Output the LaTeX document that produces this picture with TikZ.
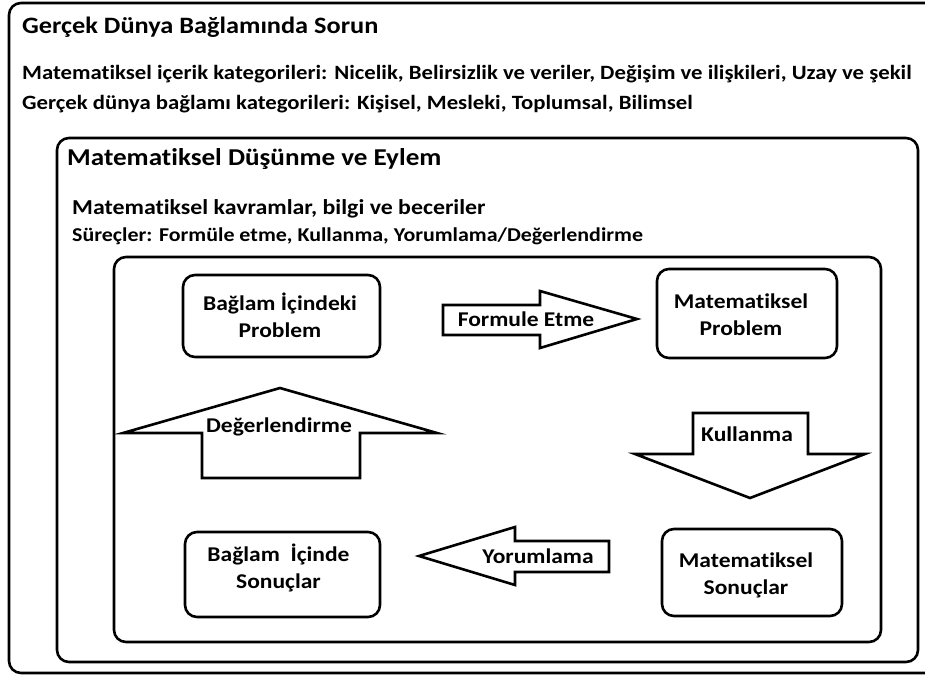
\documentclass[tikz,border=0pt]{standalone}
\usepackage{fontspec}
\setmainfont{Carlito}[FakeStretch=1.12,Ligatures={NoCommon}]
\begin{document}
\begin{tikzpicture}[x=1pt,y=-1pt,
  frame/.style={draw=black,line width=2.6pt,rounded corners=12pt},
  stepbox/.style={draw=black,line width=2.6pt,rounded corners=12pt,inner sep=0pt},
  blockarrow/.style={draw=black,line width=2.6pt,line join=miter,fill=white},
  headline/.style={anchor=base west,inner sep=0pt,font=\fontsize{23.5}{28}\selectfont\bfseries},
  infoline/.style={anchor=base west,inner sep=0pt,font=\fontsize{20.3}{24}\selectfont\bfseries},
  boxtext/.style={align=center,inner sep=0pt,font=\fontsize{21}{27}\selectfont\bfseries},
  arrowtext/.style={inner sep=0pt,font=\fontsize{21}{25}\selectfont\bfseries}]
\useasboundingbox (0,0) rectangle (925,677);
\fill[white] (0,0) rectangle (925,677);

% nested frames
\draw[frame] (9,3) rectangle (945,673);
\draw[frame] (57,138) rectangle (918,662);
\draw[frame] (114,257) rectangle (881,642);

% outer frame texts
\node[headline] (t1) at (22,34) {Gerçek Dünya Bağlamında Sorun};
\node[infoline] (t2) at (22,79) {Matematiksel içerik kategorileri: Nicelik, Belirsizlik ve veriler, Değişim ve ilişkileri, Uzay ve şekil};
\node[infoline] (t3) at (22,109) {Gerçek dünya bağlamı kategorileri: Kişisel, Mesleki, Toplumsal, Bilimsel};

% middle frame texts
\node[headline,font=\fontsize{24.2}{28}\selectfont\bfseries] (t4) at (67,165) {Matematiksel Düşünme ve Eylem};
\node[infoline,font=\fontsize{21.3}{25}\selectfont\bfseries] (t5) at (72,214) {Matematiksel kavramlar, bilgi ve beceriler};
\node[infoline,font=\fontsize{19.6}{23}\selectfont\bfseries] (t6) at (72,241) {Süreçler: Formüle etme, Kullanma, Yorumlama/Değerlendirme};

% the four stages
\node[stepbox,minimum width=197pt,minimum height=82pt] (b1) at (281.5,316) {};
\node[boxtext] (b1t) at (280,315) {Bağlam İçindeki\\Problem};
\node[stepbox,minimum width=180pt,minimum height=89pt] (b2) at (747,313.5) {};
\node[boxtext] (b2t) at (741,314.5) {Matematiksel\\Problem};
\node[stepbox,minimum width=195pt,minimum height=85pt] (b3) at (282.5,574.5) {};
\node[boxtext] (b3t) at (278.5,567.5) {Bağlam~~İçinde\\Sonuçlar};
\node[stepbox,minimum width=180pt,minimum height=87pt] (b4) at (752,572.5) {};
\node[boxtext] (b4t) at (746,575) {Matematiksel\\Sonuçlar};

% block arrows between the stages
\draw[blockarrow] (443,305) -- (540,305) -- (540,291) -- (637,319) -- (540,348) -- (540,335) -- (443,335) -- cycle;
\node[arrowtext] (a1) at (526,319) {Formule Etme};

\draw[blockarrow] (693,413) -- (808,413) -- (808,454) -- (865,454) -- (750,498) -- (635,454) -- (693,454) -- cycle;
\node[arrowtext] (a2) at (747,434) {Kullanma};

\draw[blockarrow] (609,541) -- (515,541) -- (515,527) -- (419,556) -- (515,585) -- (515,572) -- (609,572) -- cycle;
\node[arrowtext] (a3) at (538,556) {Yorumlama};

\draw[blockarrow] (202,478) -- (202,433) -- (123,433) -- (280,388) -- (437,433) -- (360,433) -- (360,478) -- cycle;
\node[arrowtext] (a4) at (279,427) {Değerlendirme};
\end{tikzpicture}
\end{document}
